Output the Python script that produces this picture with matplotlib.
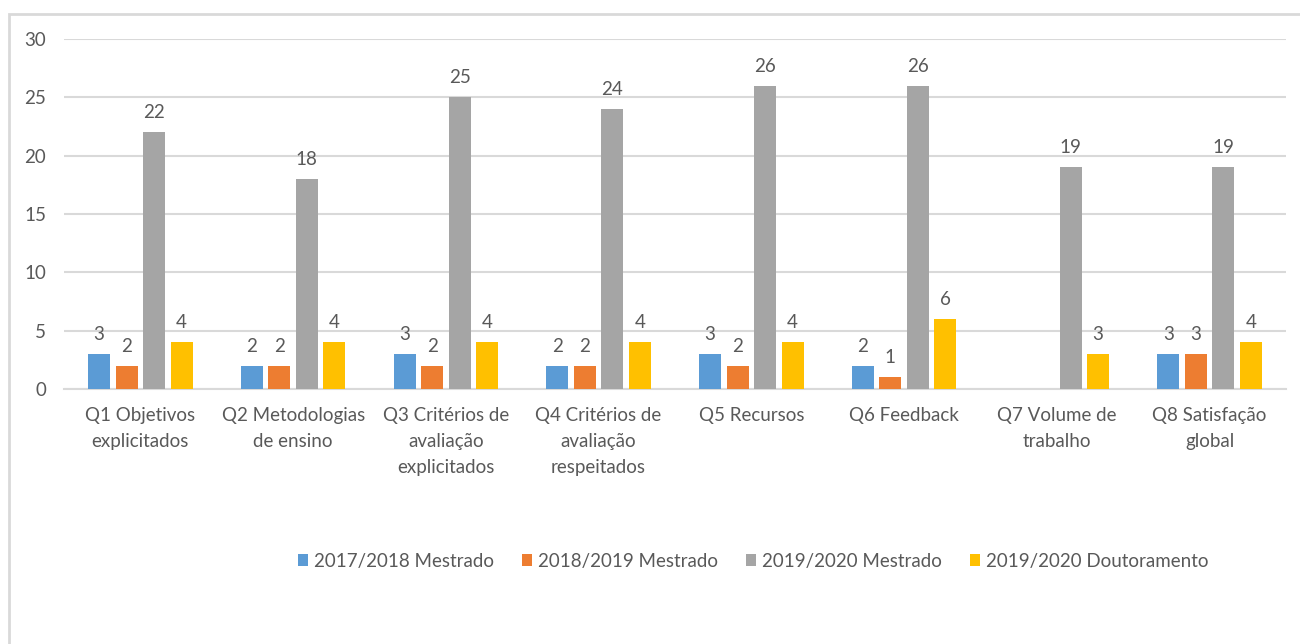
import numpy as np
import matplotlib
matplotlib.use("Agg")
import matplotlib.pyplot as plt
from matplotlib.patches import Rectangle

categories = ["Q1 Objetivos\nexplicitados", "Q2 Metodologias\nde ensino",
              "Q3 Critérios de\navaliação\nexplicitados", "Q4 Critérios de\navaliação\nrespeitados",
              "Q5 Recursos", "Q6 Feedback", "Q7 Volume de\ntrabalho", "Q8 Satisfação\nglobal"]
series_names = ["2017/2018 Mestrado", "2018/2019 Mestrado", "2019/2020 Mestrado", "2019/2020 Doutoramento"]
s2017_m = [3, 2, 3, 2, 3, 2, np.nan, 3]
s2018_m = [2, 2, 2, 2, 2, 1, np.nan, 3]
s2019_m = [22, 18, 25, 24, 26, 26, 19, 19]
s2019_d = [4, 4, 4, 4, 4, 6, 3, 4]
colors = ["#5B9BD5", "#ED7D31", "#A5A5A5", "#FFC000"]
yticks = [0, 5, 10, 15, 20, 25, 30]

plt.rcParams['font.family'] = ['Lato', 'DejaVu Sans']
txt = "#595959"
fs = 13.5

fig = plt.figure(figsize=(13, 6.44), dpi=100)
fig.patches.append(Rectangle((9/1300, -0.1), 1.2, 1 - 14/644 + 0.1, transform=fig.transFigure,
                             fill=False, edgecolor="#D9D9D9", linewidth=2, zorder=0))
ax = fig.add_axes([64/1300, 1 - 389/644, (1286 - 64)/1300, 350/644])

data = [s2017_m, s2018_m, s2019_m, s2019_d]
x = np.arange(len(categories))
width = 0.145
offsets = [-0.27, -0.09, 0.09, 0.27]
for vals, off, col, name in zip(data, offsets, colors, series_names):
    ax.bar(x + off, vals, width, color=col, label=name, zorder=3)
    for xi, v in zip(x + off, vals):
        if not np.isnan(v):
            ax.annotate(f"{int(v)}", (xi, v), xytext=(0, 8), textcoords="offset points",
                        ha="center", va="bottom", fontsize=fs, color=txt)

ax.set_xlim(-0.5, len(categories) - 0.5)
ax.set_ylim(0, 30)
ax.set_yticks(yticks)
ax.yaxis.grid(True, color="#D9D9D9", linewidth=1.5, zorder=0)
ax.set_axisbelow(True)
for s in ["top", "right", "left"]:
    ax.spines[s].set_visible(False)
ax.spines["bottom"].set_color("#D9D9D9")
ax.spines["bottom"].set_linewidth(1.5)
ax.tick_params(axis="both", length=0, labelsize=fs, colors=txt)
ax.tick_params(axis="y", pad=13)
ax.tick_params(axis="x", pad=13)
ax.set_xticks(x)
ax.set_xticklabels(categories, linespacing=1.65)

ax.legend(loc="center", bbox_to_anchor=(753/1300, 1 - 561/644), bbox_transform=fig.transFigure,
          ncol=4, frameon=False, fontsize=fs, labelcolor=txt, handlelength=0.55, handleheight=0.6,
          handletextpad=0.3, columnspacing=1.5)

fig.savefig("out.png", dpi=100)
